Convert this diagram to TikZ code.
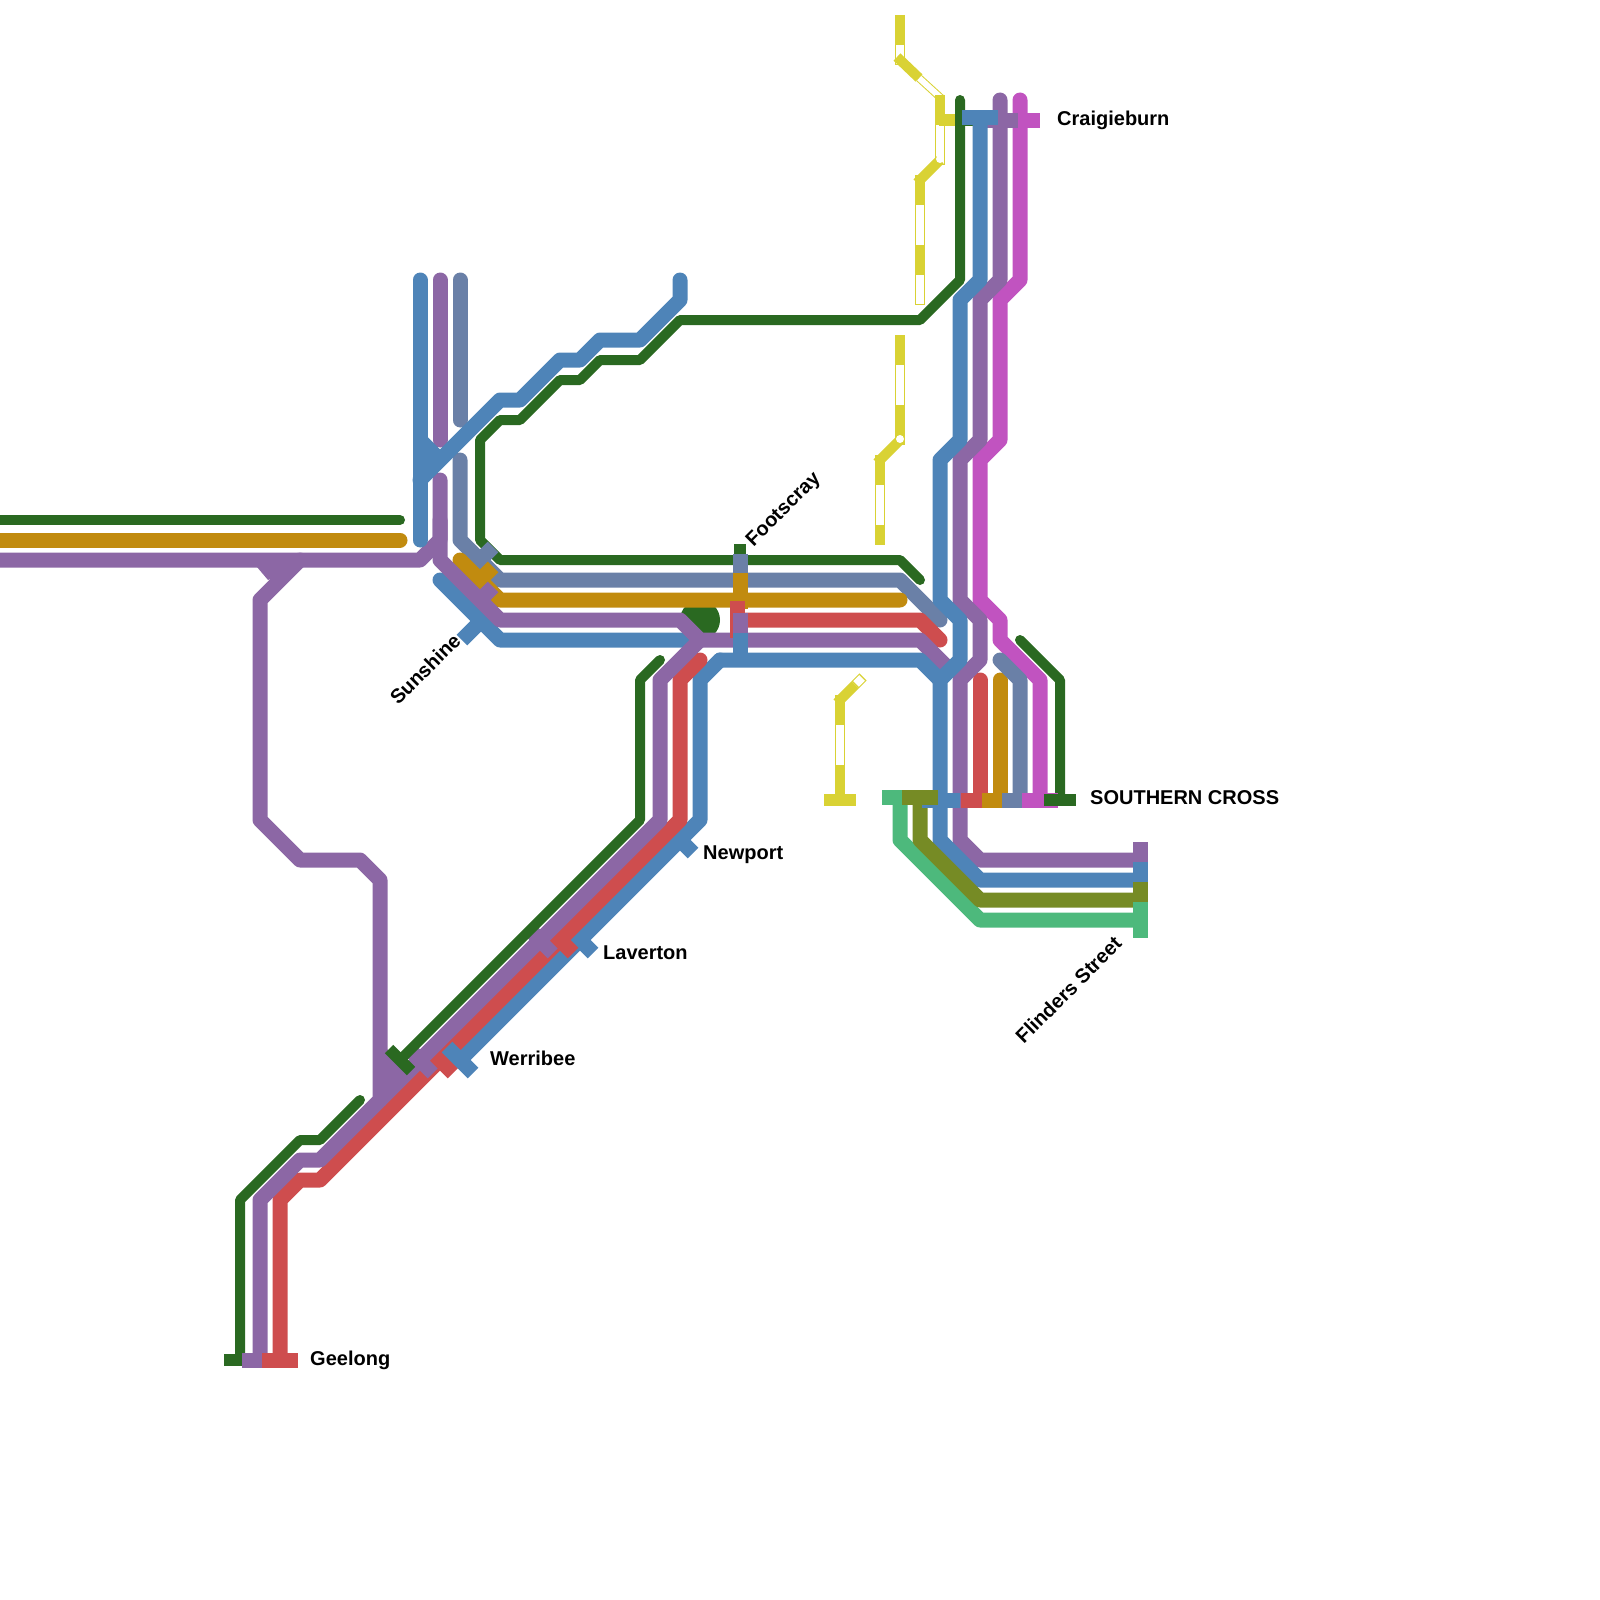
\documentclass[tikz,border=0pt]{standalone}
\usepackage{fontspec}
\setmainfont{Liberation Sans}
\usepackage{tikz}
\definecolor{linegreen}{HTML}{2A6921}
\definecolor{lineorange}{HTML}{C18B0F}
\definecolor{linepurple}{HTML}{8C67A5}
\definecolor{lineblue}{HTML}{4E84B8}
\definecolor{lineslate}{HTML}{6A80A7}
\definecolor{linered}{HTML}{CE4D4E}
\definecolor{linepink}{HTML}{C153C0}
\definecolor{lineteal}{HTML}{4DB97C}
\definecolor{lineolive}{HTML}{768B25}
\definecolor{lineyellow}{HTML}{D9D234}
\begin{document}
\begin{tikzpicture}[
  x=1pt, y=-1pt,
  route/.style={line width=15pt, line cap=round, line join=round},
  thinroute/.style={line width=10pt, line cap=round, line join=round, linegreen},
  bar/.style={line width=15pt},
  thinbar/.style={line width=12pt},
  yellowline/.style={line width=10pt, lineyellow},
  yellowgap/.style={line width=8pt, white},
  stnlabel/.style={font=\fontsize{20}{24}\selectfont\bfseries, inner sep=0pt}
]
\useasboundingbox (0,0) rectangle (1600,1600);
% Yellow stubs
\draw[thinbar, linegreen] (944,120) -- (976,120);
\draw[yellowline] (900,15) -- (900,65);
\draw[yellowgap] (900,45) -- (900,64);
\draw[line width=8pt, lineyellow] (919,78) -- (942,99);
\draw[line width=6pt, white] (919,78) -- (942,99);
\draw[yellowline] (897,57) -- (919,78);
\draw[yellowline] (940,125) -- (940,165);
\draw[yellowgap] (940,125) -- (940,164);
\draw[yellowline] (940,95) -- (940,125);
\draw[thinbar, lineyellow] (939,120) -- (956,120);
\draw[yellowline] (920,175) -- (920,305);
\draw[yellowgap] (920,205) -- (920,245);
\draw[yellowgap] (920,275) -- (920,304);
\draw[yellowline] (940,160) -- (917,183);
\fill[white] (940,159) circle (4);
\draw[yellowline] (900,335) -- (900,445);
\draw[yellowgap] (900,365) -- (900,405);
\draw[yellowline] (900,440) -- (877,463);
\fill[white] (900,439) circle (4);
\draw[yellowline] (880,455) -- (880,545);
\draw[yellowgap] (880,485) -- (880,525);
\draw[yellowline] (840,695) -- (840,800);
\draw[yellowgap] (840,725) -- (840,765);
\draw[yellowline] (855,685) -- (837,703);
\draw[yellowline] (855,685) -- (863,677);
\draw[yellowgap] (856,684) -- (862,678);
\draw[thinbar, lineyellow] (824,800) -- (856,800);
% Green
\fill[linegreen] (700,620) circle (20);
\draw[thinroute] (0,520) -- (400,520);
\draw[thinroute] (960,100) -- (960,280) -- (920,320) -- (680,320) -- (640,360) -- (600,360) -- (580,380) -- (560,380) -- (520,420) -- (500,420) -- (480,440) -- (480,540) -- (500,560) -- (900,560) -- (920,580);
\draw[thinroute] (1020,640) -- (1060,680) -- (1060,800);
\draw[thinroute] (360,1100) -- (320,1140) -- (300,1140) -- (240,1200) -- (240,1360);
\draw[thinbar, linegreen] (224,1360) -- (256,1360);
\draw[thinbar, linegreen] (740,544) -- (740,576);
% Pink
\draw[route, linepink] (1020,100) -- (1020,280) -- (1000,300) -- (1000,440) -- (980,460) -- (980,600) -- (1000,620) -- (1000,640) -- (1040,680) -- (1040,800);
\draw[bar, linepink] (1003,121) -- (1040,121);
% Blue towards Geelong, under the red
\draw[route, lineblue] (720,660) -- (700,680) -- (700,820) -- (460,1060);
\draw[bar, lineblue] (567,927) -- (593,953);
\draw[bar, lineblue] (667,827) -- (693,853);
% Slate
\draw[route, lineslate] (460,460) -- (460,540) -- (500,580) -- (900,580) -- (940,620);
\draw[route, lineslate] (460,280) -- (460,420);
\draw[bar, lineslate] (467,573) -- (493,547);
% Orange
\draw[route, lineorange] (0,540) -- (400,540);
\draw[route, lineorange] (460,560) -- (500,600) -- (900,600);
\draw[route, lineorange] (1000,680) -- (1000,800);
\draw[route, lineslate] (1000,660) -- (1020,680) -- (1020,800);
\draw[bar, lineorange] (467,593) -- (493,567);
% Red
\draw[route, linered] (740,620) -- (920,620) -- (940,640);
\draw[route, linered] (980,680) -- (980,800);
\draw[route, linered] (700,660) -- (680,680) -- (680,820) -- (320,1180) -- (300,1180) -- (280,1200) -- (280,1360);
% Ticks that the purple line then covers
\draw[bar, linepurple] (467,613) -- (493,587);
\draw[bar, linepurple] (407,1047) -- (433,1073);
\draw[bar, linepurple] (527,927) -- (553,953);
\draw[bar, linered] (427,1047) -- (453,1073);
\draw[bar, linered] (547,927) -- (573,953);
% Blue out of Sunshine
\draw[route, lineblue] (440,580) -- (500,640) -- (685,640);
\draw[bar, lineblue] (480,622) -- (462,640);
% Purple
\draw[route, linepurple] (440,280) -- (440,440);
\draw[route, linepurple] (0,560) -- (420,560) -- (440,540) -- (440,480);
\draw[route, linepurple] (440,520) -- (440,560) -- (500,620) -- (680,620) -- (700,640) -- (920,640) -- (945,665);
\draw[route, linepurple] (300,560) -- (260,600) -- (260,820) -- (300,860) -- (360,860) -- (380,880) -- (380,1100) -- (320,1160) -- (300,1160) -- (260,1200) -- (260,1360);
\fill[linepurple] (257,567) -- (268,580) -- (303,567) -- cycle;
\draw[route, linepurple] (700,640) -- (660,680) -- (660,820) -- (380,1100);
\fill[linepurple] (386,1048) -- (410,1072) -- (386,1090) -- cycle;
\draw[route, linepurple] (1000,100) -- (1000,280) -- (980,300) -- (980,440) -- (960,460) -- (960,600) -- (980,620) -- (980,660) -- (960,680) -- (960,840) -- (980,860) -- (1140,860);
\draw[bar, linepurple] (982,121) -- (1018,121);
% Blue
\draw[route, lineblue] (420,280) -- (420,540);
\draw[bar, lineblue] (420,440) -- (440,460);
\draw[bar, lineblue] (420,445) -- (435,460);
\draw[route, lineblue] (420,480) -- (500,400) -- (520,400) -- (560,360) -- (580,360) -- (600,340) -- (640,340) -- (680,300) -- (680,280);
\draw[route, lineblue] (720,660) -- (920,660) -- (940,680);
\draw[route, lineblue] (980,120) -- (980,280) -- (960,300) -- (960,440) -- (940,460) -- (940,600) -- (960,620) -- (960,660) -- (940,680) -- (940,840) -- (980,880) -- (1140,880);
\draw[bar, lineblue] (962,118) -- (998,118);
\draw[bar, lineblue] (447,1047) -- (473,1073);
% Green towards Werribee
\draw[thinroute] (660,660) -- (640,680) -- (640,820) -- (400,1060);
\draw[thinbar, linegreen] (389,1049) -- (411,1071);
% Olive and teal
\draw[route, lineteal] (900,800) -- (900,840) -- (980,920) -- (1140,920);
\draw[route, lineolive] (920,800) -- (920,840) -- (980,900) -- (1140,900);
% Southern Cross bars
\draw[bar, lineteal] (882,797) -- (918,797);
\draw[bar, linepurple] (942,800) -- (978,800);
\draw[bar, lineblue] (922,800) -- (960,800);
\draw[bar, lineolive] (902,797) -- (938,797);
\draw[bar, linered] (961,800) -- (998,800);
\draw[bar, lineorange] (982,800) -- (1018,800);
\draw[bar, lineslate] (1002,800) -- (1038,800);
\draw[bar, linepink] (1022,800) -- (1058,800);
\draw[thinbar, linegreen] (1044,800) -- (1076,800);
% Flinders Street bars
\draw[bar, linepurple] (1140,842) -- (1140,878);
\draw[bar, lineblue] (1140,862) -- (1140,898);
\draw[bar, lineolive] (1140,882) -- (1140,918);
\draw[bar, lineteal] (1140,902) -- (1140,938);
% Footscray bars
\draw[bar, lineslate] (740,554) -- (740,590);
\draw[bar, lineorange] (740,573) -- (740,609);
\draw[bar, linered] (737,601) -- (737,638);
\draw[bar, linepurple] (740,613) -- (740,650);
\draw[bar, lineblue] (740,633) -- (740,660);
% Geelong bars
\draw[bar, linepurple] (242,1360) -- (278,1360);
\draw[bar, linered] (262,1360) -- (298,1360);
% Labels
\node[stnlabel, anchor=west] (craigieburn) at (1057,120) {Craigieburn};
\node[stnlabel, anchor=west] (southerncross) at (1090,798) {SOUTHERN CROSS};
\node[stnlabel, anchor=west] (newport) at (703,855) {Newport};
\node[stnlabel, anchor=west] (laverton) at (603,953) {Laverton};
\node[stnlabel, anchor=west] (werribee) at (490,1058) {Werribee};
\node[stnlabel, anchor=west] (geelong) at (310,1360) {Geelong};
\node[stnlabel, anchor=west, rotate=45] (footscray) at (750,544) {Footscray};
\node[stnlabel, anchor=east, rotate=45] (sunshine) at (457,637) {Sunshine};
\node[stnlabel, anchor=east, rotate=45] (flinders) at (1118,940) {Flinders Street};
\end{tikzpicture}
\end{document}
